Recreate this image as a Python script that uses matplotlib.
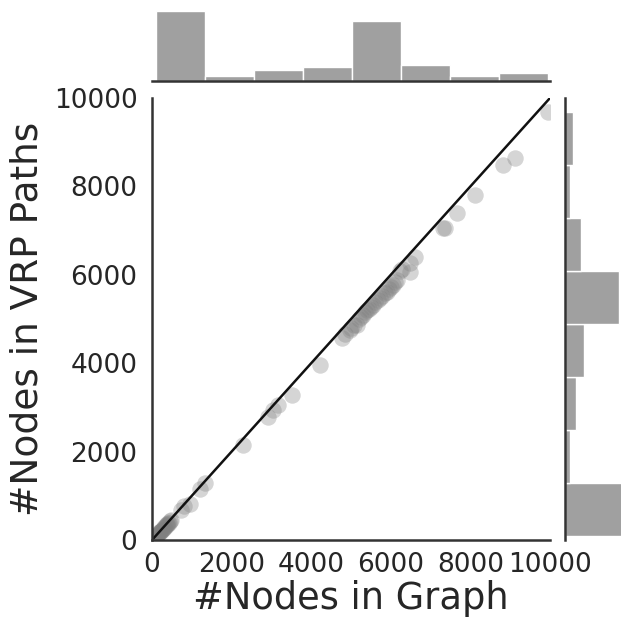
import matplotlib
matplotlib.use("Agg")
import matplotlib.pyplot as plt
import numpy as np

# number of nodes in the graph vs. number of nodes covered by the VRP paths
nodes_graph = [
    88, 105, 120, 135, 150, 165, 180, 200, 215, 230, 250, 270, 290, 310,
    330, 350, 370, 385, 400, 420, 450, 480, 720, 800, 950, 1200,
    1340, 2287,
    2915, 3050, 3166, 3518,
    4222, 4775, 4850, 4976, 5000,
    5080, 5151, 5200, 5250, 5300, 5353, 5400, 5450, 5500, 5550, 5600,
    5680, 5720, 5780, 5850, 5906, 5950, 6000, 6050, 6107, 6150, 6230,
    6283, 6484, 6484, 6609, 7300, 7363,
    7657, 8117,
    8820, 9122, 9950,
]
nodes_vrp = [
    80, 95, 110, 120, 140, 150, 170, 185, 200, 210, 235, 250, 270, 290,
    300, 330, 350, 360, 380, 395, 420, 450, 690, 760, 820, 1150,
    1300, 2149,
    2782, 2950, 3054, 3280,
    3958, 4569, 4650, 4750, 4800,
    4860, 4870, 4990, 5050, 5100, 5157, 5200, 5230, 5280, 5320, 5380,
    5429, 5480, 5520, 5580, 5610, 5680, 5720, 5780, 5836, 5880, 6090,
    6120, 6265, 6062, 6401, 7057, 7057,
    7397, 7804,
    8482, 8641, 9681,
]

text_color = "#262626"
spine_color = "#333333"
hist_color = "#a0a0a0"

fig = plt.figure(figsize=(6.21, 6.26), dpi=100)
W, H = 621, 626

ax = fig.add_axes([152 / W, 86 / H, 398 / W, 442 / H])
ax_top = fig.add_axes([152 / W, 545 / H, 398 / W, 74 / H], sharex=ax)
ax_right = fig.add_axes([565 / W, 86 / H, 74 / W, 442 / H], sharey=ax)

ax.scatter(nodes_graph, nodes_vrp, s=140, color="grey", alpha=0.33, linewidths=0)
ax.plot([0, 10000], [0, 10000], color="#111111", lw=1.8)
ax.set_xlim(0, 10000)
ax.set_ylim(0, 10000)
ax.set_xticks([0, 2000, 4000, 6000, 8000, 10000])
ax.set_yticks([0, 2000, 4000, 6000, 8000, 10000])
ax.tick_params(length=0, labelsize=19, labelcolor=text_color)
ax.tick_params(axis="x", pad=9)
ax.tick_params(axis="y", pad=10.5)
ax.set_xlabel("#Nodes in Graph", fontsize=26.5, color=text_color, labelpad=1)
ax.set_ylabel("#Nodes in VRP Paths", fontsize=27, color=text_color, labelpad=6)
for side in ["top", "right"]:
    ax.spines[side].set_visible(False)
for side in ["left", "bottom"]:
    ax.spines[side].set_color(spine_color)
    ax.spines[side].set_linewidth(1.8)

# marginal histograms
ax_top.hist(nodes_graph, bins=8, color=hist_color, edgecolor="white", linewidth=1)
ax_right.hist(nodes_vrp, bins=8, orientation="horizontal", color=hist_color,
              edgecolor="white", linewidth=1)

for m in [ax_top, ax_right]:
    for side in ["top", "right", "left", "bottom"]:
        m.spines[side].set_visible(False)
    m.tick_params(length=0, labelbottom=False, labelleft=False)
ax_top.spines["bottom"].set_visible(True)
ax_top.spines["bottom"].set_color(spine_color)
ax_top.spines["bottom"].set_linewidth(1.8)
ax_right.spines["left"].set_visible(True)
ax_right.spines["left"].set_color(spine_color)
ax_right.spines["left"].set_linewidth(1.8)
ax_top.set_yticks([])
ax_right.set_xticks([])

fig.savefig("out.png", dpi=100)
